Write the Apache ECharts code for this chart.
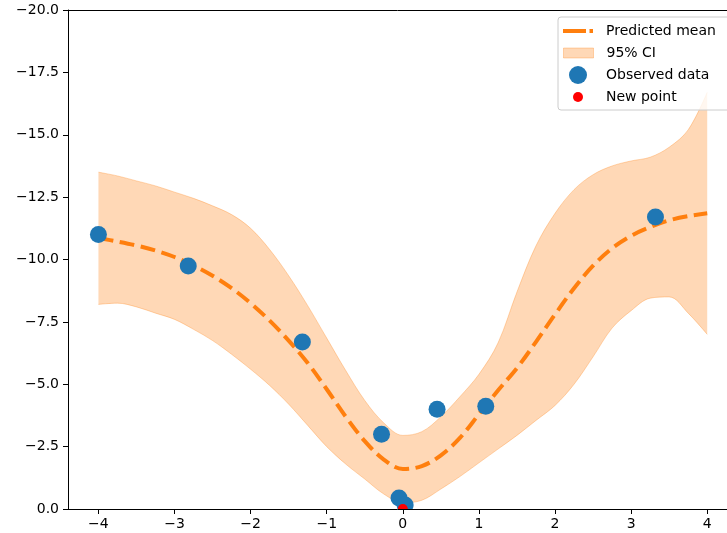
<!DOCTYPE html>
<html>
<head>
<meta charset="utf-8">
<script src="https://cdn.jsdelivr.net/npm/echarts@6/dist/echarts.min.js"></script>
<style>html,body{margin:0;padding:0;background:#fff;}#c{width:727px;height:533px;}</style>
</head>
<body>
<div id="c"></div>
<script>
// Grid of x positions for the predicted curve and its confidence band
const gridX = [-4, -3.75, -3.5, -3.25, -3, -2.75, -2.5, -2.25, -2, -1.75, -1.5, -1.25, -1, -0.75, -0.5, -0.25, 0,
  0.25, 0.5, 0.75, 1, 1.25, 1.5, 1.75, 2, 2.25, 2.5, 2.75, 3, 3.25, 3.5, 3.75, 4];
const predMean = [-10.86, -10.72, -10.56, -10.36, -10.1, -9.76, -9.35, -8.85, -8.25, -7.55, -6.75, -5.85, -4.8, -3.7, -2.72, -1.98, -1.6,
  -1.72, -2.15, -2.85, -3.8, -4.75, -5.65, -6.7, -7.8, -8.85, -9.75, -10.45, -10.95, -11.3, -11.57, -11.74, -11.85];
const ciUpper = [-13.5, -13.35, -13.15, -12.95, -12.7, -12.45, -12.15, -11.8, -11.25, -10.4, -9.35, -8.15, -6.85, -5.55, -4.35, -3.45, -2.95,
  -3.1, -3.7, -4.5, -5.4, -6.65, -8.7, -10.55, -11.85, -12.8, -13.4, -13.75, -13.95, -14.1, -14.5, -15.2, -16.7];
const ciLower = [-8.2, -8.25, -8.1, -7.85, -7.6, -7.2, -6.75, -6.2, -5.6, -4.95, -4.2, -3.35, -2.5, -1.8, -1.2, -0.6, -0.25,
  -0.35, -0.8, -1.3, -1.85, -2.4, -2.95, -3.55, -4.15, -5.0, -6.1, -7.25, -7.95, -8.45, -8.5, -7.85, -7.0];

// Observed data points
const obsX = [-4.0, -2.82, -1.32, -0.28, 0.45, 1.09, 3.32, -0.05, 0.03];
const obsY = [-11.0, -9.74, -6.69, -3.0, -4.0, -4.12, -11.7, -0.44, -0.16];

// New point
const newX = [0.0];
const newY = [0.0];

// Tick values
const xTicks = [-4, -3, -2, -1, 0, 1, 2, 3, 4];

const FONT = 'DejaVu Sans';
const C1 = '#ff7f0e';
const C0 = '#1f77b4';
const BAND = 'rgba(255,127,14,0.3)';

function minusFmt(v, digits) {
  const s = Math.abs(v).toFixed(digits);
  return v < 0 ? '\u2212' + s : s;
}

const chart = echarts.init(document.getElementById('c'), null, {renderer: 'canvas'});

function circleItem(r, color) {
  return function (params, api) {
    const p = api.coord([api.value(0), api.value(1)]);
    return {type: 'circle', z2: 10, shape: {cx: p[0], cy: p[1], r: r}, style: {fill: color}};
  };
}

const XMIN = -4.4, XMAX = 4.26;
const legendText = {fontFamily: FONT, fontSize: 14, color: '#000', padding: [0, 0, 0, 8]};

const option = {
  animation: false,
  backgroundColor: '#fff',
  grid: {left: 68, top: 10, right: 0, bottom: 24},
  xAxis: [{
    type: 'value', min: XMIN, max: XMAX,
    axisLine: {onZero: false, lineStyle: {color: '#000', width: 1}},
    axisTick: {show: true, length: 5, lineStyle: {color: '#000'}, customValues: xTicks},
    axisLabel: {customValues: xTicks, formatter: v => minusFmt(v, 0), color: '#000', fontFamily: FONT, fontSize: 14, margin: 8},
    splitLine: {show: false}
  }, {
    type: 'value', min: XMIN, max: XMAX, position: 'top',
    axisLine: {show: true, onZero: false, lineStyle: {color: '#000', width: 1}},
    axisTick: {show: false}, axisLabel: {show: false}, splitLine: {show: false}
  }],
  yAxis: {
    type: 'value', min: -20, max: 0, interval: 2.5, inverse: true,
    axisLine: {onZero: false, show: true, lineStyle: {color: '#000', width: 1}},
    axisTick: {show: true, length: 5, lineStyle: {color: '#000'}},
    axisLabel: {formatter: v => minusFmt(v, 1), color: '#000', fontFamily: FONT, fontSize: 14, margin: 9},
    splitLine: {show: false}
  },
  graphic: [{
    type: 'rect', z: 6, shape: {x: 558, y: 17, width: 190, height: 93, r: 3},
    style: {fill: 'rgba(255,255,255,0.8)', stroke: '#cccccc', lineWidth: 1}
  }],
  legend: [
    {left: 563, top: 24, padding: 0, itemWidth: 30, itemHeight: 14, z: 7, textStyle: legendText,
      data: [{name: 'Predicted mean', icon: 'path://M0,0H23V4H0Z M26.5,0H30V4H26.5Z', itemStyle: {color: C1}}]},
    {left: 563, top: 46, padding: 0, itemWidth: 30, itemHeight: 10, z: 7, textStyle: legendText,
      data: [{name: '95% CI', icon: 'rect', itemStyle: {color: BAND, borderColor: BAND, borderWidth: 1}}]},
    {left: 569, top: 66, padding: 0, itemWidth: 30, itemHeight: 18, z: 7, textStyle: legendText,
      data: [{name: 'Observed data', icon: 'circle', itemStyle: {color: C0}}]},
    {left: 573, top: 90, padding: 0, itemWidth: 30, itemHeight: 10, z: 7, textStyle: legendText,
      data: [{name: 'New point', icon: 'circle', itemStyle: {color: 'red'}}]}
  ],
  series: [
    {
      name: 'ci_base', type: 'line', stack: 'ci', smooth: 0.35, symbol: 'none', z: 1,
      encode: {x: 1, y: 0},
      data: gridX.map((x, i) => [ciLower[i], x]),
      lineStyle: {color: BAND, width: 1},
      silent: true
    },
    {
      name: '95% CI', type: 'line', stack: 'ci', smooth: 0.35, symbol: 'none', z: 1,
      encode: {x: 1, y: 0},
      data: gridX.map((x, i) => [ciUpper[i] - ciLower[i], x]),
      lineStyle: {color: BAND, width: 1},
      itemStyle: {color: BAND},
      areaStyle: {color: BAND, opacity: 1},
      silent: true
    },
    {
      name: 'Predicted mean', type: 'line', smooth: 0.35, symbol: 'none', z: 2,
      data: gridX.map((x, i) => [x, predMean[i]]),
      lineStyle: {color: C1, width: 4, type: [15, 6.5], cap: 'butt'},
      itemStyle: {color: C1}
    },
    {
      name: 'Observed data', type: 'custom', clip: true, z: 3,
      itemStyle: {color: C0},
      encode: {x: 0, y: 1},
      data: obsX.map((x, i) => [x, obsY[i]]),
      renderItem: circleItem(8.5, C0)
    },
    {
      name: 'New point', type: 'custom', clip: true, z: 5,
      itemStyle: {color: 'red'},
      encode: {x: 0, y: 1},
      data: newX.map((x, i) => [x, newY[i]]),
      renderItem: circleItem(5, 'red')
    }
  ]
};
chart.setOption(option);
</script>
</body>
</html>
